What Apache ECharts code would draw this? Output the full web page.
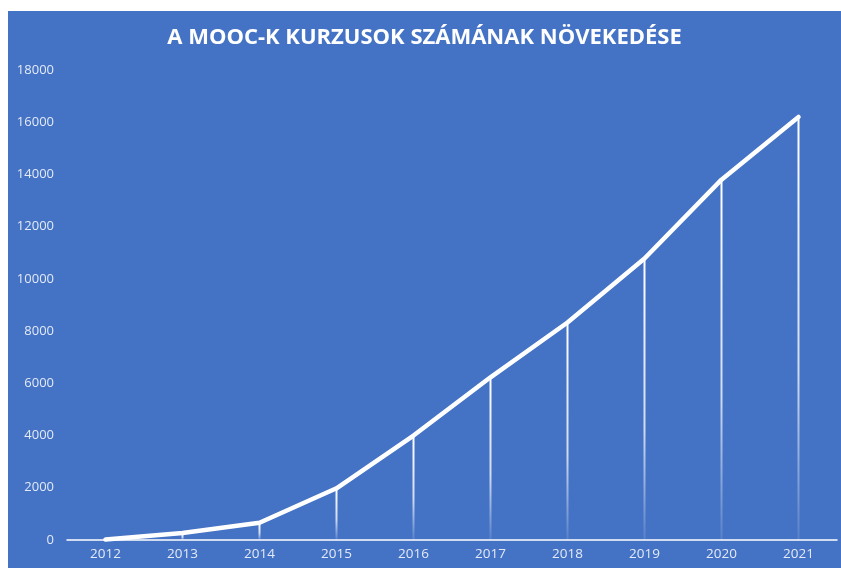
<!DOCTYPE html>
<html>
<head>
<meta charset="utf-8">
<script src="https://cdn.jsdelivr.net/npm/echarts@6/dist/echarts.min.js"></script>
<style>
  html, body { margin: 0; padding: 0; background: #ffffff; }
  #chart { position: absolute; left: 8px; top: 11px; width: 833px; height: 557px; }
</style>
</head>
<body>
<div id="chart"></div>
<script>
const years = ["2012", "2013", "2014", "2015", "2016", "2017", "2018", "2019", "2020", "2021"];
const courses = [20, 270, 660, 1980, 4000, 6230, 8330, 10780, 13800, 16200];
const yTicks = { min: 0, max: 18000, interval: 2000 };

const chart = echarts.init(document.getElementById("chart"));

chart.setOption({
  backgroundColor: "#4472c4",
  animation: false,
  title: {
    text: "A MOOC-K KURZUSOK SZÁMÁNAK NÖVEKEDÉSE",
    left: "center",
    top: 11,
    textStyle: {
      color: "#ffffff",
      fontFamily: "Open Sans",
      fontWeight: "bold",
      fontSize: 22
    }
  },
  grid: {
    left: 59,
    right: 4,
    top: 59,
    bottom: 28
  },
  xAxis: {
    type: "category",
    data: years,
    axisLine: { lineStyle: { color: "#ffffff", width: 1.5 } },
    axisTick: { show: false },
    axisLabel: {
      color: "#e4eaf5",
      fontFamily: "Open Sans",
      fontSize: 13.5,
      margin: 7
    }
  },
  yAxis: {
    type: "value",
    min: yTicks.min,
    max: yTicks.max,
    interval: yTicks.interval,
    splitLine: { show: false },
    axisLine: { show: false },
    axisTick: { show: false },
    axisLabel: {
      color: "#e4eaf5",
      fontFamily: "Open Sans",
      fontSize: 13,
      margin: 13,
      formatter: value => String(value)
    }
  },
  series: [
    {
      name: "drop",
      type: "bar",
      data: courses,
      barWidth: 2,
      z: 1,
      itemStyle: {
        color: new echarts.graphic.LinearGradient(0, 0, 0, 1, [
          { offset: 0, color: "rgba(255,255,255,1)" },
          { offset: 0.6, color: "rgba(255,255,255,0.75)" },
          { offset: 1, color: "rgba(255,255,255,0.1)" }
        ])
      }
    },
    {
      name: "Kurzusok",
      type: "line",
      data: courses,
      symbol: "none",
      z: 3,
      lineStyle: { color: "#ffffff", width: 4.5, join: "round", cap: "round" }
    }
  ]
});
</script>
</body>
</html>
